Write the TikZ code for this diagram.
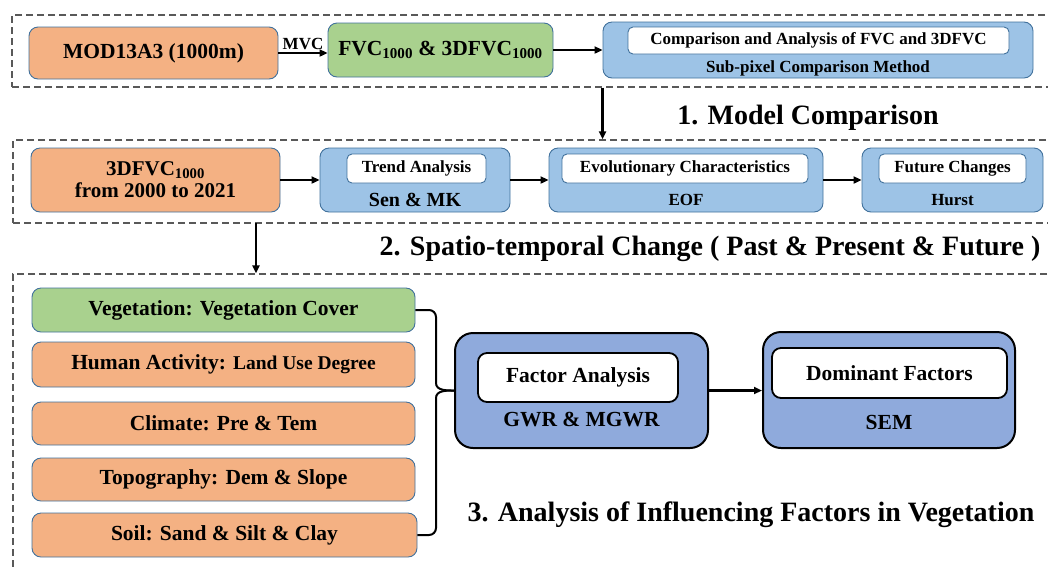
\documentclass[tikz,border=0pt]{standalone}
\usepackage{fontspec}
\setmainfont{Liberation Serif}
\usepackage{xcolor}
\usepackage{tikz}
\usetikzlibrary{arrows.meta}

\definecolor{boxorange}{HTML}{F4B183}
\definecolor{boxgreen}{HTML}{A9D18E}
\definecolor{boxblue}{HTML}{9DC3E6}
\definecolor{factorblue}{HTML}{8FAADC}
\definecolor{boxline}{HTML}{41719C}
\definecolor{framegray}{HTML}{595959}

\begin{document}
\begin{tikzpicture}[x=1pt, y=1pt,
    frame/.style={draw=framegray, dash pattern=on 7pt off 4pt, line width=1.3pt, minimum width=1047pt, inner sep=0pt},
    box/.style={draw=boxline, line width=0.9pt, rounded corners=9pt, inner sep=0pt},
    orangebox/.style={box, fill=boxorange},
    greenbox/.style={box, fill=boxgreen},
    bluebox/.style={box, fill=boxblue},
    whitebox/.style={draw=boxline, line width=0.9pt, fill=white, rounded corners=5pt, inner sep=0pt},
    bigbox/.style={draw=black, line width=2pt, fill=factorblue, rounded corners=18pt, inner sep=0pt},
    bigwhite/.style={draw=black, line width=1.8pt, fill=white, rounded corners=9pt, inner sep=0pt},
    arr/.style={-{Triangle[length=8pt,width=7pt]}, line width=2.2pt},
    brace/.style={line width=2pt},
    title/.style={font=\fontsize{28}{32}\selectfont\bfseries},
    big/.style={font=\fontsize{21.5}{24}\selectfont\bfseries},
    mid/.style={font=\fontsize{20}{23}\selectfont\bfseries},
    small/.style={font=\fontsize{17}{20}\selectfont\bfseries}]

\useasboundingbox (0,0) rectangle (1048,-566);
\clip (0,0) rectangle (1048,-566);

% dashed frames
\node[frame, minimum height=72pt] (frame1) at (535.5,-51) {};
\node[frame, minimum height=83pt] (frame2) at (536.5,-181.5) {};
\node[frame, minimum height=326pt] (frame3) at (536.5,-437) {};

% 1. model comparison
\node[orangebox, minimum width=249pt, minimum height=52pt, big] (mod) at (153.5,-53) {MOD13A3 (1000m)};
\node[greenbox, minimum width=225pt, minimum height=54pt, big] (fvc) at (440.5,-50)
    {FVC\textsubscript{1000} \& 3DFVC\textsubscript{1000}};
\node[bluebox, minimum width=430pt, minimum height=56pt] (comp) at (818,-50) {};
\node[whitebox, minimum width=381pt, minimum height=27pt, small] (compin) at (818.5,-40.5)
    {Comparison and Analysis of FVC and 3DFVC};
\node[small] (compm) at (818,-68) {Sub-pixel Comparison Method};

\draw[arr] (mod.east) -- node[above, inner sep=2pt, small]{MVC} (mod.east -| fvc.west);
\draw[arr] (fvc.east) -- (fvc.east -| comp.west);
\draw[arr] (comp.south west |- frame1.south) -- (comp.south west |- frame2.north);

\node[title] (t1) at (808,-118) {1. Model Comparison};

% 2. spatio-temporal change
\node[orangebox, minimum width=249pt, minimum height=64pt, align=center, font=\fontsize{21}{22}\selectfont\bfseries] (src) at (155.5,-180)
    {3DFVC\textsubscript{1000}\\from 2000 to 2021};
\node[bluebox, minimum width=190pt, minimum height=64pt] (trend) at (415,-180) {};
\node[whitebox, minimum width=139pt, minimum height=29pt, small] (trendin) at (416.5,-168.5) {Trend Analysis};
\node[mid] (trendm) at (415,-200) {Sen \& MK};
\node[bluebox, minimum width=274pt, minimum height=64pt] (evol) at (686,-180) {};
\node[whitebox, minimum width=246pt, minimum height=29pt, small] (evolin) at (685,-168.5) {Evolutionary Characteristics};
\node[small] (evolm) at (686,-200) {EOF};
\node[bluebox, minimum width=181pt, minimum height=64pt] (future) at (952.5,-180) {};
\node[whitebox, minimum width=147pt, minimum height=29pt, small] (futurein) at (952.5,-168.5) {Future Changes};
\node[small] (futurem) at (952.5,-200) {Hurst};

\draw[arr] (src.east) -- (trend.west);
\draw[arr] (trend.east) -- (evol.west);
\draw[arr] (evol.east) -- (future.west);
\coordinate (down2) at (256,-223);
\draw[arr] (down2) -- (down2 |- frame3.north);

\node[title] (t2) at (710,-249) {2. Spatio-temporal Change ( Past \& Present \& Future )};

% 3. influencing factors
\node[greenbox, minimum width=383pt, minimum height=44pt, big] (veg) at (223.5,-310) {Vegetation: Vegetation Cover};
\node[orangebox, minimum width=383pt, minimum height=45pt, big] (human) at (223.5,-364.5)
    {Human Activity: {\fontsize{19.5}{22}\selectfont Land Use Degree}};
\node[orangebox, minimum width=383pt, minimum height=43pt, big] (climate) at (223.5,-423.5) {Climate: Pre \& Tem};
\node[orangebox, minimum width=383pt, minimum height=43pt, big] (topo) at (223.5,-479.5) {Topography: Dem \& Slope};
\node[orangebox, minimum width=385pt, minimum height=44pt, big] (soil) at (224.5,-535) {Soil: Sand \& Silt \& Clay};

\node[bigbox, minimum width=253pt, minimum height=115pt] (factor) at (581.5,-390.5) {};
\node[bigwhite, minimum width=200pt, minimum height=49pt, big] (factorin) at (578,-377.5) {Factor Analysis};
\node[big] (factorm) at (581.5,-420) {GWR \& MGWR};
\node[bigbox, minimum width=252pt, minimum height=116pt] (dom) at (889,-390) {};
\node[bigwhite, minimum width=235pt, minimum height=50pt, big] (domin) at (889.5,-373) {Dominant Factors};
\node[big] (domm) at (889,-422) {SEM};

\draw[brace] (veg.east) -- (429,-310) to[out=0,in=90] (436,-317) -- (436,-383)
    to[out=-90,in=180] (factor.west);
\draw[brace] (soil.east) -- (429,-535) to[out=0,in=-90] (436,-528) -- (436,-398)
    to[out=90,in=180] (factor.west);
\draw[arr] (factor.east) -- (factor.east -| dom.west);

\node[title] (t3) at (751,-515) {3. Analysis of Influencing Factors in Vegetation};
\end{tikzpicture}
\end{document}
